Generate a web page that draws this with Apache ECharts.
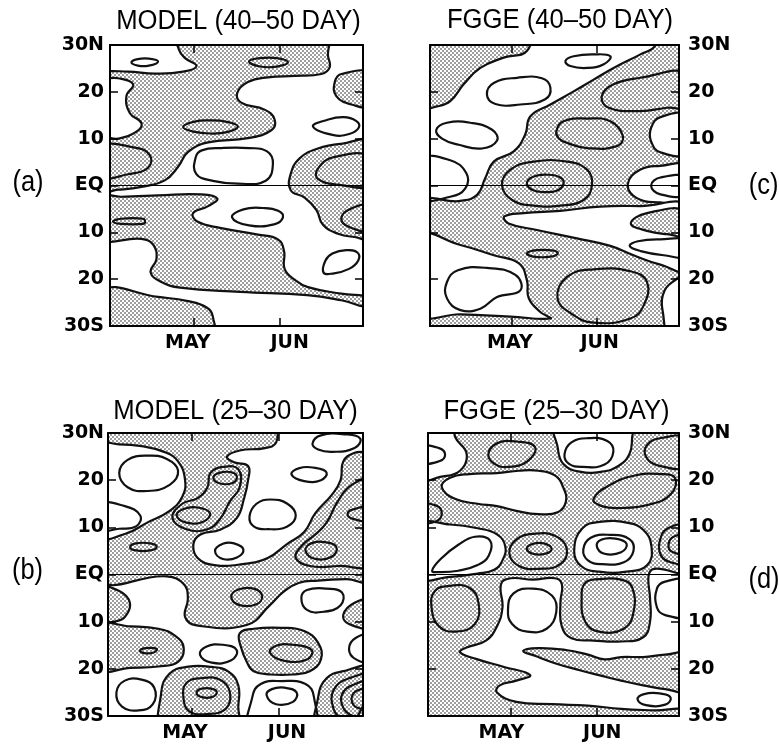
<!DOCTYPE html>
<html><head><meta charset="utf-8">
<script src="https://cdn.jsdelivr.net/npm/echarts@6/dist/echarts.min.js"></script>
<style>html,body{margin:0;padding:0;background:#fff}#c{width:779px;height:748px}</style>
</head><body><div id="c"></div>
<script>
// ---------- axis / text data ----------
const latTicks = [30, 20, 10, 0, -10, -20, -30];
const latLabels = ['30N', '20', '10', 'EQ', '10', '20', '30S'];
const latTickMarks = [20, 10, 0, -10, -20];
const monthTicks = [30, 61];
const monthLabels = ['MAY', 'JUN'];
const monthLabelDays = [[28, 64.6], [29.2, 62], [27.5, 63.9], [26.6, 63.2]]; // a, c, b, d
const titles = ['MODEL (40\u201350 DAY)', 'FGGE (40\u201350 DAY)', 'MODEL (25\u201330 DAY)', 'FGGE (25\u201330 DAY)'];
const panelTags = ['(a)', '(c)', '(b)', '(d)'];
const EQ = [[0, 0], [91, 0]];

// ---------- panel (a) MODEL 40-50 DAY : contours as [day since Apr 1, latitude] ----------
const A_S1 = [[24,33],[78,33],[78.4,27.8],[79,25.2],[76,23.8],[66.4,23.4],[56.8,23.1],[49.6,22.1],[45.8,19.8],[47.2,17.7],[55.6,16.2],[59.2,14.1],[58,11.8],[49.6,10.1],[35.3,9.2],[28.1,7.2],[24.5,4],[19.7,1.1],[11.3,-0.3],[2.9,-0.9],[-3,-1],[-3,9.9],[2.9,10],[9.5,11.5],[11.3,13.3],[7.1,15.5],[5.9,19.1],[8.3,21.6],[2.9,22.9],[-3,23],[-3,24.2],[6.5,24.3],[16.1,23.9],[26.3,24.3],[31.1,25.5],[27,27.2],[24.8,29]];
const A_S2 = [[-3,-2.6],[-3,-11.2],[11.3,-11.4],[15.5,-12.6],[16.7,-15.7],[14.6,-18.5],[18.5,-20.6],[25.2,-21.8],[46.8,-22.7],[70.9,-23.4],[83.2,-24.5],[94,-26],[94,-24],[83.2,-23.1],[71.2,-21.7],[66.4,-20.1],[62.8,-17.8],[62.6,-14],[60.4,-11.5],[53.2,-10.5],[40,-9.1],[31.4,-7.7],[29.9,-5.9],[35.3,-4.4],[38.6,-2.8],[32.9,-1.9],[17.3,-2.1],[4.1,-2.4]];
const A_S3 = [[94,23.8],[83.2,23.8],[80.8,22],[81.4,19.1],[86.8,17.3],[94,17.1]];
const A_S4 = [[-3,-22.5],[17.3,-23.8],[28.1,-24.7],[34.9,-26.1],[37,-28],[36.7,-33],[-3,-33]];
const A_S5 = [[94,9],[83.2,8.9],[74.8,7.9],[68.2,5.8],[65,2.5],[65,-1],[70,-2.6],[74.2,-5.2],[76.6,-8.4],[82,-10.3],[88,-11],[94,-11.2]];
const A_L1 = [[7.7,26.3],[10,27],[14,27.1],[17.3,26.5],[14,25.6],[10,25.6]];
const A_L2 = [[50,26.5],[54,27.2],[60,27.2],[64,26.3],[60,25.4],[54,25.4]];
const A_L3 = [[26.3,12.5],[30,13.6],[36,13.9],[42,13.6],[46,12.6],[42,11.4],[36,11.1],[30,11.5]];
const A_L4 = [[-3,8.2],[8.9,8.1],[14.3,6.5],[13.7,3.8],[6.5,2.4],[-3,2]];
const A_L5 = [[73,12.6],[78,14],[84,14.6],[88.5,13.8],[89.5,12.4],[86,11],[80,10.8]];
const A_L6 = [[30.8,6],[33,7.5],[40,8],[50,8],[56.5,7.3],[58.6,4.7],[56,1],[46,0.4],[37,1],[31,2.5]];
const A_L7 = [[43.9,-6.8],[48,-5.1],[55,-4.8],[60.5,-5.4],[62.2,-6.8],[59,-8.3],[50,-8.5]];
const A_L8 = [[94,6],[80.8,6.1],[74.8,3.6],[74.8,1.4],[82,0.2],[94,0.2]];
const A_L9 = [[94,-4.4],[86.8,-4.9],[83.2,-7],[86.2,-8.9],[94,-9.4]];
const A_L10 = [[1.1,-7.7],[4,-7.1],[11.9,-7.1],[12.6,-7.7],[11.9,-8.2],[4,-8.2]];
const A_L11 = [[76.8,-18.6],[77.5,-16],[80,-14.5],[85,-13.8],[89,-14.3],[89.3,-16],[86,-17.8],[80,-18.8]];

// ---------- panel (c) FGGE 40-50 DAY ----------
const C_S1 = [[-3,33],[35.4,33],[35.4,28.7],[26.9,27.3],[18.4,25.1],[12.3,21.6],[7.4,18],[2.6,16.9],[-3,16.8]];
const C_S2 = [[83,33],[94,33],[94,-33],[-3,-33],[-3,-4],[11.1,-3.3],[17.2,-2],[20.2,1.6],[23.3,5.1],[30.6,7.3],[34.8,10.9],[36.7,14.8],[44,17.3],[52.5,20.1],[59.8,22.6],[67.1,25.1],[76.9,28],[82.3,29.8]];
const C_W5 = [[94,14.8],[84.2,14.6],[80.8,12.3],[80.8,9.4],[84.2,7.1],[94,7]];
const C_Weq = [[94,4.1],[84.2,4.2],[76.9,3.4],[72.3,0.3],[75.6,-2.7],[84.2,-3.6],[94,-3.6]];
const C_W2 = [[94,-4.6],[76.9,-4.4],[62.2,-4.5],[47.6,-5.4],[34.2,-5.9],[27.2,-6.6],[28.7,-8.1],[39.1,-9.5],[53.7,-11.3],[65.9,-12.9],[74.4,-14.9],[84.2,-16.9],[94,-18]];
const C_W3 = [[-3,-11],[11.1,-12.7],[23.3,-14.9],[32.4,-16.6],[35.4,-20.2],[36.1,-24.1],[40.3,-27],[44,-28.4],[29.4,-28],[11.1,-27.5],[-3,-27.3]];
const C_W4 = [[94,-19.5],[88.4,-20.7],[85.1,-23.4],[85.1,-27],[87.8,-33],[94,-33]];
const C_S4 = [[94,-5.5],[79.3,-5.9],[73.4,-8.1],[79.3,-9.7],[86.6,-10.4],[94,-10.5]];
const C_L1 = [[94,23.9],[76.9,23],[67.1,21.6],[62.8,19.1],[65.3,16.6],[76.9,15.9],[86.6,16.6],[94,17]];
const C_L2 = [[46.2,11.6],[48.8,13.7],[57.4,14.3],[65.9,13.7],[70.5,10.5],[68.3,8.4],[57.4,8],[50.1,9.1],[47,10.1]];
const C_L3 = [[26.3,0.1],[29.4,3.4],[37.9,5.1],[50.1,5.1],[57.4,3.4],[59.2,0.1],[56.1,-3.1],[47.6,-4.3],[37.9,-4.3],[30,-3.1]];
const C_L4 = [[35.4,0.5],[37.9,1.9],[42.8,2.3],[47.6,1.7],[48.8,0.3],[46.3,-1.1],[41.5,-1.4],[37.3,-0.9]];
const C_L5 = [[35.4,-14.5],[39.1,-13.8],[45.2,-13.9],[46.7,-14.5],[44,-15.2],[37.9,-15.2]];
const C_L6 = [[46.6,-24.1],[50.1,-19.5],[59.8,-17.9],[73.2,-18.3],[79.3,-20.6],[78.1,-25.6],[73.2,-28.4],[59.8,-29.3],[52,-27.5]];
const C_L7 = [[49.5,26.6],[52.5,27.6],[59.8,28],[65.9,27.6],[63.5,25.9],[57.4,25.1],[51.3,25.5]];
const C_L8 = [[20.8,19.4],[23.3,21.9],[31.8,23],[40.9,22.9],[44,20.9],[42.1,18.4],[33,17.3],[23.9,17.4]];
const C_L9 = [[2.3,11.9],[6.2,13.4],[14.7,13.4],[22.7,11.9],[24.5,9.6],[19,7.9],[10.5,8.7],[4.4,10]];
const C_L10 = [[-3,5.5],[7.4,5.4],[13.3,2.6],[12.9,-0.6],[7.4,-2.4],[-3,-2.6]];
const C_L11 = [[94,1.7],[84.2,1.7],[80.8,0],[84.2,-1.9],[94,-1.9]];
const C_L12 = [[94,-11.8],[84.2,-11.5],[76,-11.9],[73,-12.9],[77,-14],[85.4,-14.9],[94,-15.1]];
const C_L13 = [[6.2,-20.6],[10.2,-18.1],[20.8,-17.6],[31.2,-19.1],[33,-22.4],[24.5,-23.8],[18.4,-26.3],[11.1,-26.6],[6.2,-24.1]];

// ---------- panel (b) MODEL 25-30 DAY ----------
const B_main = [[-3,33],[94,33],[94,-1],[85,-1],[75,-1.3],[68,-1.8],[62.6,-3.7],[57.8,-6.5],[49.5,-10.7],[31.6,-10.8],[27.5,-9],[28.5,-5],[27,-2],[21,-0.4],[-3,-0.4]];
const B_WA = [[-3,27.3],[4,27.6],[12,27.2],[20,26],[25,24],[27.5,20],[26.5,16.5],[22,13.5],[14,11],[6,8.6],[-3,8.2]];
const B_WS = [[62,33],[94,33],[94,26.5],[88,25.8],[84,24],[83,20],[80,17],[74,13],[70,9],[64,6.5],[57,3.5],[48,2.2],[38,2],[32,3.5],[30.5,6.5],[33,8.5],[40,9.5],[46,12],[48.5,16],[50,20],[50,23],[45,23.8],[42.5,25],[47,26.3],[56,26.8],[60,28]];
const B_s2 = [[94,-5.5],[88,-6],[84,-8.5],[86,-10.5],[94,-11]];
const B_s3 = [[-3,-3],[4,-3.5],[7.8,-6],[6,-9],[2,-10],[-3,-10]];
const B_s4 = [[-3,-11],[8,-11],[18,-11.5],[24,-13],[27,-15.5],[25,-18.5],[18,-19.5],[8,-19.8],[-3,-20]];
const B_s5 = [[47,-12.5],[52,-11.5],[62,-11.3],[70,-12],[75,-14.5],[76,-18],[72,-20.5],[66,-21.2],[58,-21.2],[52,-20.5],[49.5,-18.5],[47.5,-15.5]];
const B_s6 = [[20,-33],[19,-25],[22,-21],[28,-19.6],[37,-19.6],[43,-20.6],[46.5,-23.5],[46.5,-28],[46,-33]];
const B_s7 = [[75,-33],[75,-26],[78,-22],[84,-20.5],[94,-20],[94,-33]];
const B_L1 = [[4,21.5],[7,24.3],[14,25.2],[21,24.5],[25,22],[22,19],[14,17.7],[7,18.5]];
const B_L2 = [[-3,14.8],[6,14.5],[11.5,12.5],[10,10.2],[4,9.7],[-3,9.6]];
const B_L3 = [[23,12],[26.5,15],[32,16.2],[35.5,18.5],[36.5,21.5],[41,22.8],[46.5,22.3],[47,18.5],[43.5,15.5],[40,11.8],[35.5,9.6],[28,9.6]];
const B_L4 = [[24.5,12.5],[27,13.9],[32,14.2],[36.4,13],[34,11.2],[28,11]];
const B_L5 = [[37.6,20.5],[40,21.6],[44.5,21.6],[46,20.6],[44.5,19.4],[40,19.3]];
const B_L6 = [[7.9,5.8],[10,6.6],[15,6.6],[17.4,5.9],[15,5.1],[10,5.1]];
const B_L7 = [[65.5,21.2],[68,22.5],[74,22.6],[78,21.6],[76,20],[70,19.8]];
const B_L8 = [[50.5,12.3],[53,15],[58,15.9],[64,15],[67,12.5],[64,10.2],[57,9.6],[52,10.2]];
const B_L9 = [[38.2,5],[41,6.5],[45,6.6],[48.3,5.3],[46,3.6],[41,3.3]];
const B_L10 = [[73,27.8],[76,29.5],[85,29.7],[90,28.8],[88,26.8],[80,26],[75,26.5]];
const B_L11 = [[94,20],[87,19],[82,15.5],[78,11],[74,8.5],[69,6],[67,3.5],[72,1.8],[82,1.8],[94,2.5]];
const B_L12 = [[70.5,5],[72.5,6.6],[78,6.8],[81.5,5.8],[80,3.8],[74,3.3]];
const B_L13 = [[94,14.2],[87.5,13.8],[85.5,12.8],[87.5,11.8],[94,11.5]];
const B_L14 = [[44,-4.8],[46.5,-3.2],[52,-3],[55,-4.5],[53,-6.3],[47,-6.5]];
const B_L15 = [[69,-5],[71,-3.3],[78,-3],[83.5,-3.8],[83,-6.5],[77,-7.9],[71,-7.5]];
const B_L16 = [[11.4,-16.1],[13.5,-15.6],[17.4,-15.8],[16,-16.6],[12.5,-16.6]];
const B_L17 = [[32.8,-17],[35,-15.3],[41,-14.9],[45.9,-16],[44,-18.2],[37,-18.7]];
const B_L18 = [[57.8,-16.6],[60,-15.1],[66,-14.9],[72.7,-16],[71,-18],[63,-18.3]];
const B_L19 = [[94,-13],[88.5,-13.4],[86,-15.8],[88.5,-18],[94,-18.3]];
const B_L20 = [[26.9,-26],[28,-23],[33,-22],[40,-22.3],[43.5,-25],[42,-28.5],[35,-29.6],[29,-29]];
const B_L21 = [[31.6,-25.1],[33.5,-24.2],[37.5,-24.3],[38.8,-25.1],[37,-26],[33.5,-26]];
const B_L22 = [[3,-25],[6,-22.5],[12,-22.3],[16.5,-24],[16,-27.5],[11,-28.8],[5,-28]];
const B_L23 = [[51,-33],[51.5,-26],[54.5,-23.2],[62,-22.6],[70.5,-23.2],[73.5,-26],[73,-33]];
const B_L24 = [[56.6,-25.6],[58.5,-24.3],[63,-24],[67.3,-25],[66,-27],[60,-27.5]];
const B_L25 = [[94,-21.6],[86,-22],[80.5,-24.5],[80.5,-28.5],[83.5,-31],[86,-33]];
const B_L26 = [[94,-23],[87.5,-23.4],[83.5,-25.5],[84,-28.3],[87.5,-30],[94,-30.3]];
const B_L27 = [[94,-24.3],[89,-24.6],[87,-26],[87.8,-27.8],[90.5,-28.5],[94,-28.6]];

// ---------- panel (d) FGGE 25-30 DAY ----------
const D_main = [[-3,33],[94,33],[94,1.2],[82,1.2],[80,-0.2],[80.5,-5],[80.5,-10],[78,-13.3],[70,-14.2],[60,-14],[52,-13.5],[48.5,-11],[48,-6],[48.5,-2],[46,-0.8],[38,-1.1],[30,-0.8],[26.5,-2],[27,-7],[25,-11],[21,-14],[14,-15.5],[11.6,-16.5],[18,-18],[27,-19.5],[37,-21.3],[32,-22.5],[26,-23.5],[25,-25],[32,-27],[45,-27.5],[58,-27.8],[70,-28.5],[82,-28.8],[94,-29],[94,-33],[-3,-33]];
const D_W1 = [[-3,33],[9,33],[9.8,29.2],[14,25.6],[11.6,22],[4.4,20.7],[-3,20.3]];
const D_W2 = [[5,18.5],[8,20.5],[15,21.3],[25,21.5],[33,22],[40,22],[46,21],[49,18.5],[50,15.5],[47,13.2],[40,12.8],[32,13.5],[25,14.5],[18,15],[10,16]];
const D_W3 = [[46,33],[47,27],[49,23.5],[55,21.8],[63,21.8],[69,23],[73,25.5],[74,29],[74,33]];
const D_W4 = [[-3,10.5],[8,10.6],[18,9.8],[25,8.5],[28,6],[27,3],[24,1],[18,0.2],[8,-0.5],[-3,-0.5]];
const D_W5 = [[53,5],[56,9.8],[63,11.2],[72,11],[78,9.5],[81,6],[79.5,2],[72,0.6],[62,0.6],[55.5,1.8]];
const D_S3 = [[34.5,-16.2],[40,-15.6],[50,-16],[58,-17],[64,-18],[70,-17.5],[78,-17.5],[86,-17],[94,-17],[94,-24.5],[86,-24.3],[78,-23.5],[70,-22.5],[63,-21.5],[55,-20.3],[46,-18.8],[39,-17.3]];
const D_L1 = [[-3,27],[4,26.8],[6.2,25.4],[4,24],[-3,23.8]];
const D_L2 = [[21.9,25.6],[25,27.8],[32,28.2],[38.8,27],[36,24],[29,22.8],[24,23.5]];
const D_L3 = [[49.5,25.5],[52,28],[58,28.9],[65,28.3],[67.2,26],[64,23.3],[56,22.8],[51,23.5]];
const D_L4 = [[-3,14.8],[3,14.6],[5,13],[3,11.3],[-3,11.2]];
const D_L5 = [[60,16],[66,19],[75,21],[84,21.3],[89.5,20.5],[88,17],[80,14.8],[70,14.1],[63,14.5]];
const D_L6 = [[94,28.8],[85,29],[79.5,27.5],[79,25],[83,23.2],[94,23]];
const D_L7 = [[1.5,0.8],[5,3.5],[11,6.3],[17,8],[22.5,7.2],[22,4],[18,2],[11,0.8],[4,0.5]];
const D_L8 = [[29.5,4.5],[32,7.4],[38,8.6],[46,8.2],[50.3,5.5],[48,2.2],[40,1.2],[33,1.8]];
const D_L9 = [[35.8,5.5],[38,6.5],[42,6.6],[44.8,5.5],[42.5,4.4],[38,4.4]];
const D_L10 = [[56.3,5.3],[59,7.8],[66,8.4],[73,7.5],[74.5,5],[71,2.6],[63,2.2],[58,3]];
const D_L11 = [[61.2,6],[63,7.4],[68,7.6],[72,6.5],[70,4.7],[64,4.4]];
const D_L12 = [[94,10],[87,9.8],[84,7],[84.5,4],[88,2.6],[94,2.6]];
const D_L13 = [[94,8.2],[89,8],[87.2,6.3],[88.5,4.8],[94,4.5]];
const D_L14 = [[1.3,-7],[2.5,-3.5],[8,-2.4],[15,-2.8],[18.3,-6],[17,-10.5],[10,-12.1],[4,-11]];
const D_L15 = [[29,-7.5],[31,-4],[38,-3],[45,-4.5],[46.5,-8],[43,-11.5],[36,-12.1],[30.5,-10.5]];
const D_L16 = [[55.7,-5],[57,-1.8],[62,-1],[70,-1.1],[74,-2.7],[74.5,-8],[71,-11.5],[62,-12.1],[57,-10]];
const D_L17 = [[94,-1.5],[86,-1.5],[83,-3],[83,-7],[86,-8.6],[94,-8.6]];
const D_L18 = [[76,-26.5],[78,-25.4],[85,-25.3],[88,-26.2],[86,-27.6],[79,-27.7]];

// ---------- drawing order per panel: s = stippled, w = white, l = line, e = equator ----------
const layersA = [['s',A_S1],['s',A_S2],['s',A_S3],['s',A_S4],['s',A_S5],
  ['l',A_L1],['l',A_L2],['l',A_L3],['l',A_L4],['l',A_L5],['l',A_L6],['l',A_L7],['l',A_L8],['l',A_L9],['l',A_L10],['l',A_L11],['e',EQ]];
const layersC = [['s',C_S1],['s',C_S2],['w',C_W5],['w',C_Weq],['w',C_W2],['w',C_W3],['w',C_W4],['s',C_S4],
  ['l',C_L1],['l',C_L2],['l',C_L3],['l',C_L4],['l',C_L5],['l',C_L6],['l',C_L7],['l',C_L8],['l',C_L9],['l',C_L10],['l',C_L11],['l',C_L12],['l',C_L13],['e',EQ]];
const layersB = [['s',B_main],['w',B_WA],['w',B_WS],['s',B_s2],['s',B_s3],['s',B_s4],['s',B_s5],['s',B_s6],['s',B_s7],
  ['l',B_L1],['l',B_L2],['l',B_L3],['l',B_L4],['l',B_L5],['l',B_L6],['l',B_L7],['l',B_L8],['l',B_L9],['l',B_L10],['l',B_L11],['l',B_L12],['l',B_L13],
  ['l',B_L14],['l',B_L15],['l',B_L16],['l',B_L17],['l',B_L18],['l',B_L19],['l',B_L20],['l',B_L21],['l',B_L22],['l',B_L23],['l',B_L24],['l',B_L25],['l',B_L26],['l',B_L27],['e',EQ]];
const layersD = [['s',D_main],['w',D_W1],['w',D_W2],['w',D_W3],['w',D_W4],['w',D_W5],['s',D_S3],
  ['l',D_L1],['l',D_L2],['l',D_L3],['l',D_L4],['l',D_L5],['l',D_L6],['l',D_L7],['l',D_L8],['l',D_L9],['l',D_L10],['l',D_L11],['l',D_L12],['l',D_L13],
  ['l',D_L14],['l',D_L15],['l',D_L16],['l',D_L17],['l',D_L18],['e',EQ]];

// ---------- style ----------
function makeDots() {
  const c = document.createElement('canvas');
  c.width = 4; c.height = 4;
  const g = c.getContext('2d');
  g.fillStyle = '#ffffff'; g.fillRect(0, 0, 4, 4);
  g.fillStyle = '#222222';
  g.beginPath(); g.arc(1, 1, 0.8, 0, Math.PI * 2); g.fill();
  g.beginPath(); g.arc(3, 3, 0.8, 0, Math.PI * 2); g.fill();
  return c;
}
const dotPattern = { image: makeDots(), repeat: 'repeat' };

const grids = [
  { left: 110, top: 45, width: 253, height: 281 },  // a
  { left: 430, top: 45, width: 249, height: 281 },  // c
  { left: 108, top: 433, width: 255, height: 283 }, // b
  { left: 428, top: 433, width: 251, height: 283 }  // d
];
const panelLayers = [layersA, layersC, layersB, layersD];
const labelRight = [false, true, false, true];

const labelFont = { color: '#000', fontFamily: 'DejaVu Sans', fontWeight: 'bold', fontSize: 19 };
const axisLineStyle = { show: true, onZero: false, lineStyle: { color: '#000', width: 2 } };
const tickStyle = { color: '#000', width: 1.5 };

const xAxes = [], yAxes = [], series = [];
grids.forEach((g, i) => {
  const ld = monthLabelDays[i];
  xAxes.push({
    gridIndex: i, type: 'value', min: 0, max: 91, position: 'bottom', z: 10,
    axisLine: axisLineStyle, splitLine: { show: false },
    axisTick: { show: true, inside: true, length: 8, lineStyle: tickStyle, customValues: monthTicks },
    axisLabel: Object.assign({ show: true, margin: 8, customValues: ld,
      formatter: v => monthLabels[Math.abs(v - ld[0]) < Math.abs(v - ld[1]) ? 0 : 1] }, labelFont)
  });
  xAxes.push({
    gridIndex: i, type: 'value', min: 0, max: 91, position: 'top', z: 10,
    axisLine: axisLineStyle, splitLine: { show: false },
    axisTick: { show: true, inside: true, length: 8, lineStyle: tickStyle, customValues: monthTicks },
    axisLabel: { show: false }
  });
  const yLab = (show, margin) => Object.assign({ show, margin, customValues: latTicks,
    formatter: v => { const k = latTicks.indexOf(Math.round(v)); return k >= 0 ? latLabels[k] : ''; } }, labelFont);
  yAxes.push({
    gridIndex: i, type: 'value', min: -30, max: 30, interval: 10, position: 'left', z: 10,
    axisLine: axisLineStyle, splitLine: { show: false },
    axisTick: { show: true, inside: true, length: 8, lineStyle: tickStyle, customValues: latTickMarks },
    axisLabel: yLab(!labelRight[i], i === 2 ? 4 : 6)
  });
  yAxes.push({
    gridIndex: i, type: 'value', min: -30, max: 30, interval: 10, position: 'right', z: 10,
    axisLine: axisLineStyle, splitLine: { show: false },
    axisTick: { show: true, inside: true, length: 8, lineStyle: tickStyle, customValues: latTickMarks },
    axisLabel: yLab(labelRight[i], 9)
  });
  const layers = panelLayers[i];
  series.push({
    type: 'custom', xAxisIndex: 2 * i, yAxisIndex: 2 * i, clip: true, silent: true, animation: false,
    data: layers.map(() => [45, 0]),
    renderItem: (params, api) => {
      const layer = layers[params.dataIndex];
      const kind = layer[0];
      const pts = layer[1].map(p => api.coord(p));
      if (kind === 'e') {
        return { type: 'line', shape: { x1: pts[0][0], y1: pts[0][1], x2: pts[1][0], y2: pts[1][1] },
          style: { stroke: '#000', lineWidth: 1.2 } };
      }
      return { type: 'polygon', shape: { points: pts, smooth: 0.45 },
        style: { fill: kind === 's' ? dotPattern : (kind === 'w' ? '#ffffff' : 'none'),
          stroke: '#111', lineWidth: 2.2, lineJoin: 'round' } };
    }
  });
});

const titlePos = [[238.5, 22], [560, 21], [235.5, 412], [556.5, 412]];
const tagPos = [[28, 183], [763.5, 186], [27.5, 571], [764, 580]];
const graphic = [];
titles.forEach((t, i) => graphic.push({ type: 'text', x: titlePos[i][0], y: titlePos[i][1], scaleX: 0.95,
  style: { text: t, font: '27px "Liberation Sans"', fill: '#000', textAlign: 'center', textVerticalAlign: 'middle', align: 'center', verticalAlign: 'middle' } }));
panelTags.forEach((t, i) => graphic.push({ type: 'text', x: tagPos[i][0], y: tagPos[i][1], scaleX: 0.85,
  style: { text: t, font: '30px "Liberation Sans"', fill: '#000', textAlign: 'center', textVerticalAlign: 'middle', align: 'center', verticalAlign: 'middle' } }));

const chart = echarts.init(document.getElementById('c'), null, { renderer: 'canvas' });
chart.setOption({
  backgroundColor: '#ffffff',
  animation: false,
  grid: grids,
  xAxis: xAxes,
  yAxis: yAxes,
  series: series,
  graphic: graphic
});
</script>
</body></html>
